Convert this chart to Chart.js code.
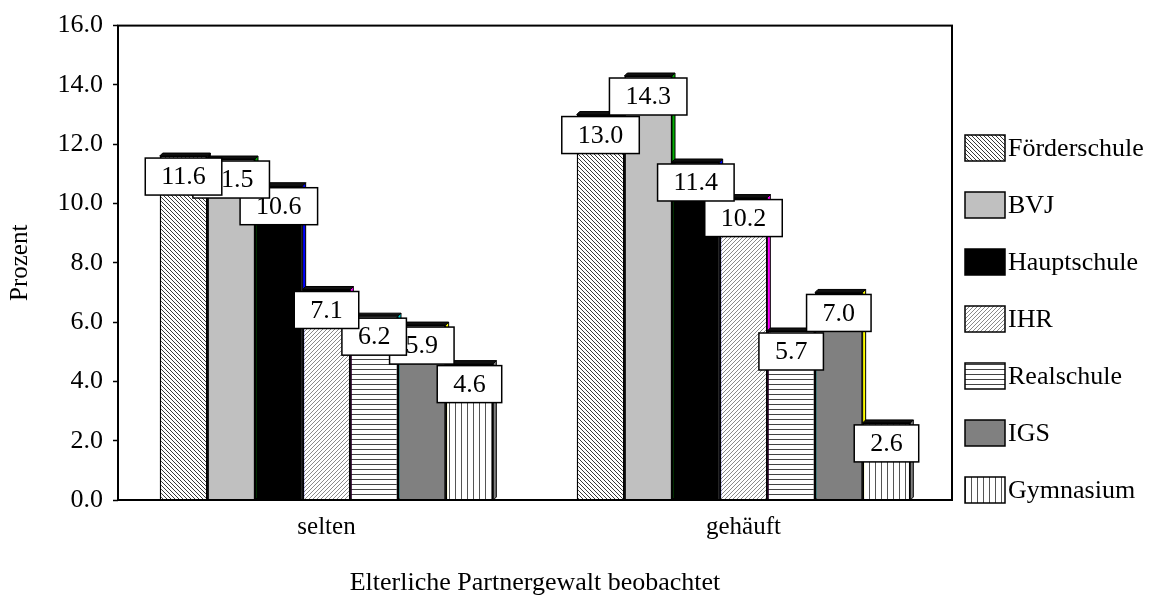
<!DOCTYPE html>
<html><head><meta charset="utf-8">
<script src="https://cdn.jsdelivr.net/npm/chart.js@4"></script>
<style>html,body{margin:0;padding:0;background:#fff}#wrap{width:1153px;height:599px}</style>
</head><body><div id="wrap"><canvas id="c" width="1153" height="599"></canvas></div>
<script>
const categories = ['selten', 'gehäuft'];
const seriesNames = ['Förderschule', 'BVJ', 'Hauptschule', 'IHR', 'Realschule', 'IGS', 'Gymnasium'];
const foerderschule = [11.6, 13.0];
const bvj = [11.5, 14.3];
const hauptschule = [10.6, 11.4];
const ihr = [7.1, 10.2];
const realschule = [6.2, 5.7];
const igs = [5.9, 7.0];
const gymnasium = [4.6, 2.6];
const yTicks = [0, 2, 4, 6, 8, 10, 12, 14, 16];
const xTitle = 'Elterliche Partnergewalt beobachtet';
const yTitle = 'Prozent';

const FONT = '"Liberation Serif", "Times New Roman", serif';

function makePattern(type, bg, fg, s) {
  const c = document.createElement('canvas');
  c.width = s; c.height = s;
  const x = c.getContext('2d');
  x.fillStyle = bg; x.fillRect(0, 0, s, s);
  x.strokeStyle = fg; x.lineWidth = 1;
  x.beginPath();
  if (type === 'back') {
    for (const k of [-s, 0, s]) { x.moveTo(k, 0); x.lineTo(k + s, s); }
  } else if (type === 'fwd') {
    for (const k of [-s, 0, s]) { x.moveTo(k, s); x.lineTo(k + s, 0); }
  } else if (type === 'horiz') {
    x.moveTo(0, s - 0.5); x.lineTo(s, s - 0.5);
  } else if (type === 'vert') {
    x.moveTo(s - 0.5, 0); x.lineTo(s - 0.5, s);
  }
  x.stroke();
  return x.createPattern(c, 'repeat');
}
const ctx = document.getElementById('c').getContext('2d');
const fills = [
  makePattern('back', '#ffffff', '#3a3a3a', 4),
  '#c0c0c0',
  '#000000',
  makePattern('fwd', '#ffffff', '#8a8a8a', 4),
  makePattern('horiz', '#ffffff', '#444444', 5),
  '#808080',
  makePattern('vert', '#ffffff', '#555555', 6)
];
const sideColors = ['#000000', '#00b000', '#0000ff', '#ff00ff', '#00d8d8', '#ffff00', '#808080'];
const seriesValues = [foerderschule, bvj, hauptschule, ihr, realschule, igs, gymnasium];

const depthPlugin = {
  id: 'depth',
  beforeDatasetsDraw(chart) {
    const c = chart.ctx, d = 3;
    const base = chart.scales.y.getPixelForValue(0);
    c.save();
    c.lineWidth = 1;
    c.strokeStyle = '#000';
    chart.data.datasets.forEach((ds, i) => {
      chart.getDatasetMeta(i).data.forEach(bar => {
        const l = bar.x - bar.width / 2, r = bar.x + bar.width / 2, t = bar.y;
        c.fillStyle = sideColors[i];
        c.beginPath();
        c.moveTo(r, t); c.lineTo(r + d, t - d); c.lineTo(r + d, base - d); c.lineTo(r, base); c.closePath();
        c.fill(); c.stroke();
        c.fillStyle = '#111';
        c.beginPath();
        c.moveTo(l, t); c.lineTo(l + d, t - d); c.lineTo(r + d, t - d); c.lineTo(r, t); c.closePath();
        c.fill(); c.stroke();
      });
    });
    c.restore();
  },
  afterDatasetsDraw(chart) {
    const c = chart.ctx, a = chart.chartArea;
    c.save();
    c.strokeStyle = '#000';
    c.lineWidth = 2;
    c.strokeRect(a.left, a.top, a.right - a.left, a.bottom - a.top);
    c.font = '26px ' + FONT;
    c.textAlign = 'center';
    c.textBaseline = 'middle';
    for (let i = chart.data.datasets.length - 1; i >= 0; i--) {
      const ds = chart.data.datasets[i];
      chart.getDatasetMeta(i).data.forEach((bar, j) => {
        const txt = ds.data[j].toFixed(1);
        const w = c.measureText(txt).width + 32, h = 37;
        const top = bar.y + 2;
        c.fillStyle = '#fff';
        c.fillRect(bar.x - w / 2, top, w, h);
        c.lineWidth = 1.5;
        c.strokeRect(bar.x - w / 2, top, w, h);
        c.fillStyle = '#000';
        c.fillText(txt, bar.x, top + h / 2 + 1);
      });
    }
    c.restore();
  },
  afterDraw(chart) {
    const c = chart.ctx;
    c.save();
    c.font = '26px ' + FONT;
    c.textAlign = 'left';
    c.textBaseline = 'middle';
    chart.data.datasets.forEach((ds, i) => {
      const cy = 148 + i * 57;
      c.fillStyle = ds.backgroundColor;
      c.fillRect(965, cy - 13, 40, 26);
      c.strokeStyle = '#000';
      c.lineWidth = 1.5;
      c.strokeRect(965, cy - 13, 40, 26);
      c.fillStyle = '#000';
      c.fillText(ds.label, 1008, cy + 1);
    });
    c.restore();
  }
};

new Chart(ctx, {
  type: 'bar',
  data: {
    labels: categories,
    datasets: seriesNames.map((name, i) => ({
      label: name,
      data: seriesValues[i],
      backgroundColor: fills[i],
      borderColor: '#000',
      borderWidth: 1.5,
      categoryPercentage: 0.8,
      barPercentage: 1.0
    }))
  },
  options: {
    responsive: false,
    animation: false,
    events: [],
    layout: { padding: { left: 0, top: 20, right: 201, bottom: 0 } },
    plugins: { legend: { display: false }, tooltip: { enabled: false } },
    scales: {
      x: {
        grid: { display: false, drawTicks: false },
        border: { display: false },
        ticks: { color: '#000', font: { family: FONT, size: 25 }, padding: 12 },
        title: { display: true, text: xTitle, color: '#000', font: { family: FONT, size: 26 }, padding: { top: 0, bottom: 0 } },
        afterFit(s) { s.height = 99; }
      },
      y: {
        min: 0, max: 16,
        afterBuildTicks(s) { s.ticks = yTicks.map(v => ({ value: v })); },
        grid: { display: true, drawOnChartArea: false, drawTicks: true, tickLength: 5, tickColor: '#000', tickWidth: 1.5 },
        border: { display: false },
        ticks: { color: '#000', font: { family: FONT, size: 26 }, padding: 10, callback: v => Number(v).toFixed(1) },
        title: { display: true, text: yTitle, color: '#000', font: { family: FONT, size: 25 }, padding: { top: 5, bottom: 0 } },
        afterFit(s) { s.width = 118; }
      }
    }
  },
  plugins: [depthPlugin]
});
</script>
</body></html>
